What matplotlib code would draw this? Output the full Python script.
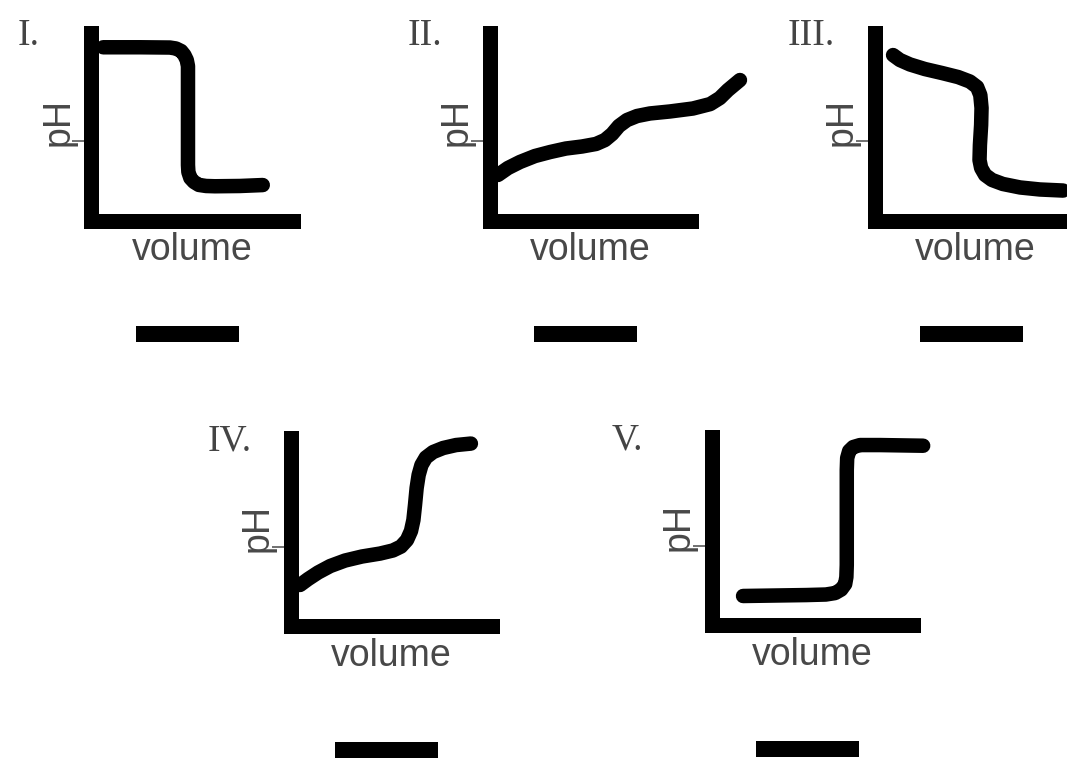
import numpy as np
import matplotlib
matplotlib.use("Agg")
from matplotlib import pyplot as plt

# panel titles
labels = ["I.", "II.", "III.", "IV.", "V."]

# curves: volume (mL) vs pH
vol_1 = [2.9, 12.1, 19.5, 21.0, 22.3, 23.1, 23.7, 24.0, 24.0, 24.0, 24.0, 24.1, 24.6, 25.5,
         26.7, 28.5, 30.7, 36.9, 42.6]
ph_1 = [12.9, 12.9, 12.88, 12.81, 12.62, 12.32, 11.95, 11.5, 10.8, 7.5, 4.13, 3.61, 3.16, 2.87,
        2.65, 2.57, 2.55, 2.57, 2.64]

vol_2 = [2.1, 4.6, 7.6, 11.3, 15.1, 19.0, 23.0, 26.5, 28.7, 30.5, 32.2, 34.2, 36.7, 39.9,
         44.9, 50.6, 54.9, 57.3, 59.3, 61.1, 62.3]
ph_2 = [3.39, 3.91, 4.36, 4.8, 5.1, 5.36, 5.51, 5.7, 5.99, 6.44, 7.04, 7.48, 7.78, 7.97,
        8.12, 8.34, 8.67, 9.12, 9.71, 10.16, 10.46]

vol_3 = [4.5, 6.2, 8.7, 12.4, 16.7, 20.7, 23.6, 25.4, 26.2, 26.5, 26.4, 26.1, 26.0, 26.4,
         27.4, 29.1, 31.8, 36.1, 41.0, 46.8]
ph_3 = [12.32, 11.95, 11.62, 11.28, 10.98, 10.68, 10.35, 9.94, 9.34, 8.38, 7.11, 5.62, 4.5, 3.91,
        3.39, 3.02, 2.72, 2.46, 2.31, 2.23]

vol_4 = [2.3, 4.3, 6.8, 9.8, 13.5, 17.7, 22.2, 25.4, 27.4, 28.9, 29.9, 30.5, 30.9, 31.3,
         31.8, 32.5, 33.6, 35.4, 37.9, 41.1, 44.8]
ph_4 = [3.04, 3.48, 3.97, 4.45, 4.86, 5.16, 5.38, 5.61, 5.9, 6.39, 7.06, 7.88, 9.0, 10.26,
        11.23, 11.97, 12.53, 12.94, 13.24, 13.46, 13.57]

vol_5 = [7.8, 23.5, 28.4, 30.7, 32.2, 33.2, 33.5, 33.6, 33.6, 33.7, 34.2, 35.2, 36.9, 41.9, 52.6]
ph_5 = [2.16, 2.23, 2.27, 2.38, 2.64, 3.05, 3.57, 4.47, 11.54, 12.43, 12.96, 13.25, 13.4, 13.4, 13.35]

vols = [vol_1, vol_2, vol_3, vol_4, vol_5]
phs = [ph_1, ph_2, ph_3, ph_4, ph_5]

# layout (pixels): corner of the L, label offset, blank offset
W, H = 1067, 758
corners = [(91.5, 220.5), (489.5, 220.5), (875, 220.5), (290.8, 625.8), (711.7, 625.0)]
label_dx = [-63, -65, -64, -61, -84]
blank_dy = [113.5, 113.5, 113.5, 124, 124]
aw, ah = 201, 188

fig = plt.figure(figsize=(W / 100, H / 100), dpi=100)
fig.patch.set_facecolor("white")

px = 0.72  # points per pixel at dpi 100

for i in range(5):
    x0, y0 = corners[i]
    ax = fig.add_axes([x0 / W, (H - y0) / H, aw / W, ah / H])
    ax.set_xlim(0, 50)
    ax.set_ylim(0, 14)
    ax.patch.set_alpha(0)
    for s in ["top", "right"]:
        ax.spines[s].set_visible(False)
    for s in ["left", "bottom"]:
        ax.spines[s].set_linewidth(15 * px)
        ax.spines[s].set_color("black")
        ax.spines[s].set_capstyle("projecting")
    ax.set_xticks([])
    ax.set_yticks([5.9])
    ax.tick_params(axis="y", length=19 * px, width=1.3, color="#666666", labelleft=False)

    ax.plot(vols[i], phs[i], color="black", lw=14.5 * px, solid_capstyle="round",
            solid_joinstyle="round", clip_on=False)

    ax.annotate("pH", xy=(0, 7.3), xycoords=("axes fraction", "data"),
                xytext=(-33 * px, 0), textcoords="offset points", rotation=90,
                ha="center", va="center", fontsize=27, family="Liberation Sans",
                color="#484848")
    ax.annotate("volume", xy=(0.5, 0), xycoords="axes fraction",
                xytext=(0, -40 * px), textcoords="offset points",
                ha="center", va="baseline", fontsize=27, family="Liberation Sans",
                color="#484848")
    ax.annotate(labels[i], xy=(0, 1), xycoords="axes fraction",
                xytext=(label_dx[i] * px, -12.5 * px), textcoords="offset points",
                ha="center", va="baseline", fontsize=27, family="Liberation Serif",
                color="#444444")

    # answer blank under each graph
    by = -blank_dy[i] / ah
    ax.plot([(96 - 51.5) / aw, (96 + 51.5) / aw], [by, by], transform=ax.transAxes,
            color="black", lw=16 * px, solid_capstyle="butt", clip_on=False)

fig.savefig("out.png", dpi=100, facecolor="white")
